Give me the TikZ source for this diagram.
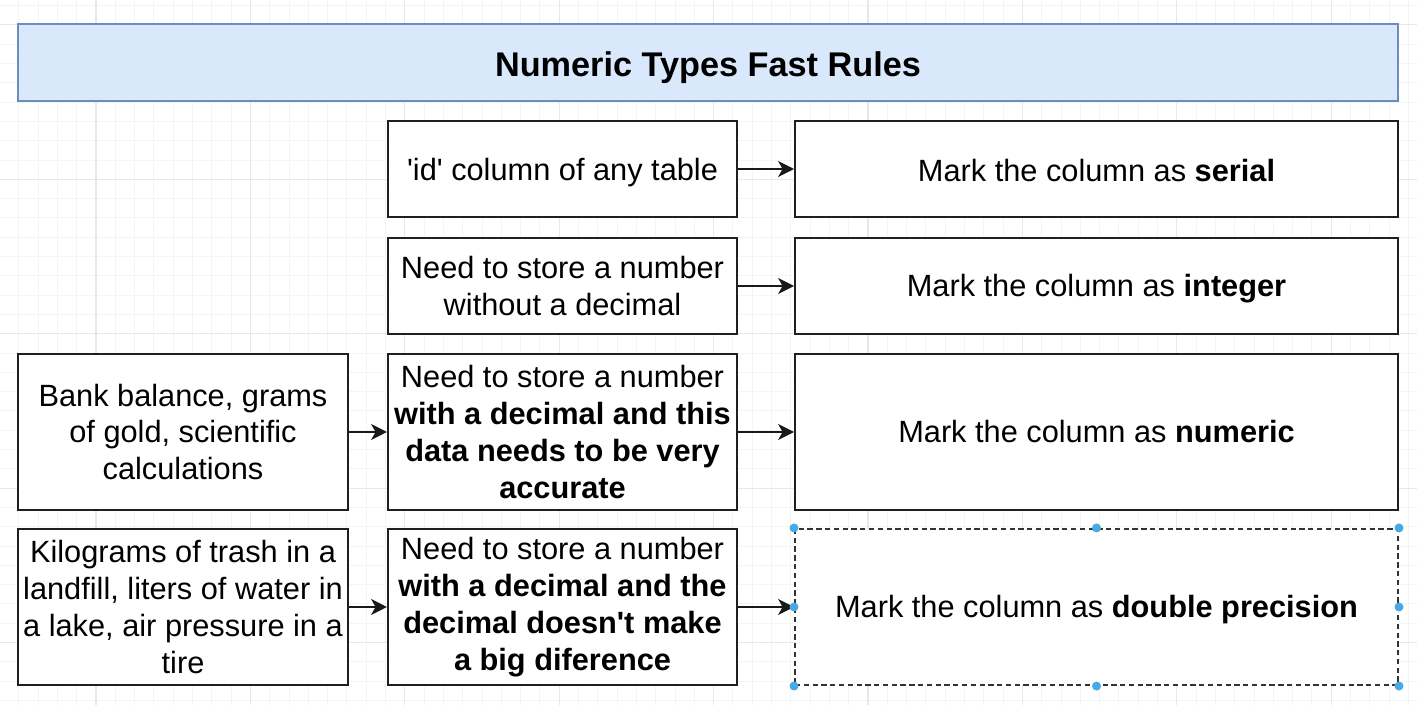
\documentclass[tikz,border=0pt]{standalone}
\usepackage{fontspec}
\setmainfont{Liberation Sans}
\usetikzlibrary{arrows.meta}
\definecolor{titlefill}{HTML}{DAE8FC}
\definecolor{titleline}{HTML}{6C8EBF}
\definecolor{gridminor}{HTML}{F4F4F4}
\definecolor{gridmajor}{HTML}{E8E8E8}
\definecolor{handle}{HTML}{4AA8E8}
\newcommand{\lowertext}[2]{\raisebox{-#1}[\height][\depth]{#2}}
\tikzset{
  rulebox/.style={draw=black!88, line width=1.2pt, fill=white, align=center, inner sep=0pt,
    font=\fontsize{17.5}{21}\selectfont},
  titlebox/.style={draw=titleline, line width=1.2pt, fill=titlefill, inner sep=0pt,
    font=\fontsize{19.5}{23}\selectfont\bfseries},
  rulearrow/.style={draw=black!90, line width=1.2pt, -{Stealth[length=9pt,width=9pt,inset=2.5pt]}},
}
\begin{document}
\begin{tikzpicture}[x=0.02cm,y=-0.02cm]
			%%%%% START %%%%%
			\useasboundingbox[fill=white] (0,0) rectangle (1417,705);
			
			% background grid
			\foreach \i in {0,...,72} \draw[gridminor, line width=0.5pt] ({18.8+19.3*\i},0) -- ({18.8+19.3*\i},705);
			\foreach \i in {0,...,36} \draw[gridminor, line width=0.5pt] (0,{5.6+19.3*\i}) -- (1417,{5.6+19.3*\i});
			\foreach \i in {0,...,8} \draw[gridmajor, line width=0.6pt] ({96+154.4*\i},0) -- ({96+154.4*\i},705);
			\foreach \i in {0,...,4} \draw[gridmajor, line width=0.6pt] (0,{24.9+154.4*\i}) -- (1417,{24.9+154.4*\i});
			
			% title
			\node[titlebox, minimum width=27.6cm, minimum height=1.54cm] (title) at (708, 62.5) {\lowertext{2.8pt}{Numeric Types Fast Rules}};
			
			% middle column
			\node[rulebox, minimum width=6.98cm, minimum height=1.92cm] (idcol) at (562.5, 169) {\lowertext{2.2pt}{\textquotesingle id\textquotesingle{} column of any table}};
			\node[rulebox, minimum width=6.98cm, minimum height=1.92cm] (nodec) at (562.5, 286) {Need to store a number\\without a decimal};
			\node[rulebox, minimum width=6.98cm, minimum height=3.12cm] (accurate) at (562.5, 432) {Need to store a number\\\textbf{with a decimal and this}\\\textbf{data needs to be very}\\\textbf{accurate}};
			\node[rulebox, minimum width=6.98cm, minimum height=3.12cm] (rough) at (562.5, 607) {Need to store a number\\\textbf{with a decimal and the}\\\textbf{decimal doesn\textquotesingle t make}\\\textbf{a big diference}};
			
			% left column
			\node[rulebox, minimum width=6.6cm, minimum height=3.12cm] (bank) at (183, 432) {Bank balance, grams\\of gold, scientific\\calculations};
			\node[rulebox, minimum width=6.6cm, minimum height=3.12cm] (trash) at (183, 607) {Kilograms of trash in a\\landfill, liters of water in\\a lake, air pressure in a\\tire};
			
			% right column
			\node[rulebox, minimum width=12.06cm, minimum height=1.92cm] (serial) at (1096.5, 169) {\lowertext{0.6pt}{Mark the column as \textbf{serial}}};
			\node[rulebox, minimum width=12.06cm, minimum height=1.92cm] (integer) at (1096.5, 286) {\lowertext{1.7pt}{Mark the column as \textbf{integer}}};
			\node[rulebox, minimum width=12.06cm, minimum height=3.12cm] (numeric) at (1096.5, 432) {Mark the column as \textbf{numeric}};
			\node[rulebox, draw=black!80, densely dashed, minimum width=12.06cm, minimum height=3.12cm] (double) at (1096.5, 607) {\lowertext{1.7pt}{Mark the column as \textbf{double precision}}};
			
			% arrows
			\draw[rulearrow] (idcol.east) -- (serial.west);
			\draw[rulearrow] (nodec.east) -- (integer.west);
			\draw[rulearrow] (accurate.east) -- (numeric.west);
			\draw[rulearrow] (rough.east) -- (double.west);
			\draw[rulearrow] (bank.east) -- (accurate.west);
			\draw[rulearrow] (trash.east) -- (rough.west);
			
			% selection handles
			\foreach \p in {north west,north,north east,west,east,south west,south,south east}
				\fill[handle] (double.\p) circle (4.5);
			%%%%% END %%%%%
\end{tikzpicture}
\end{document}
